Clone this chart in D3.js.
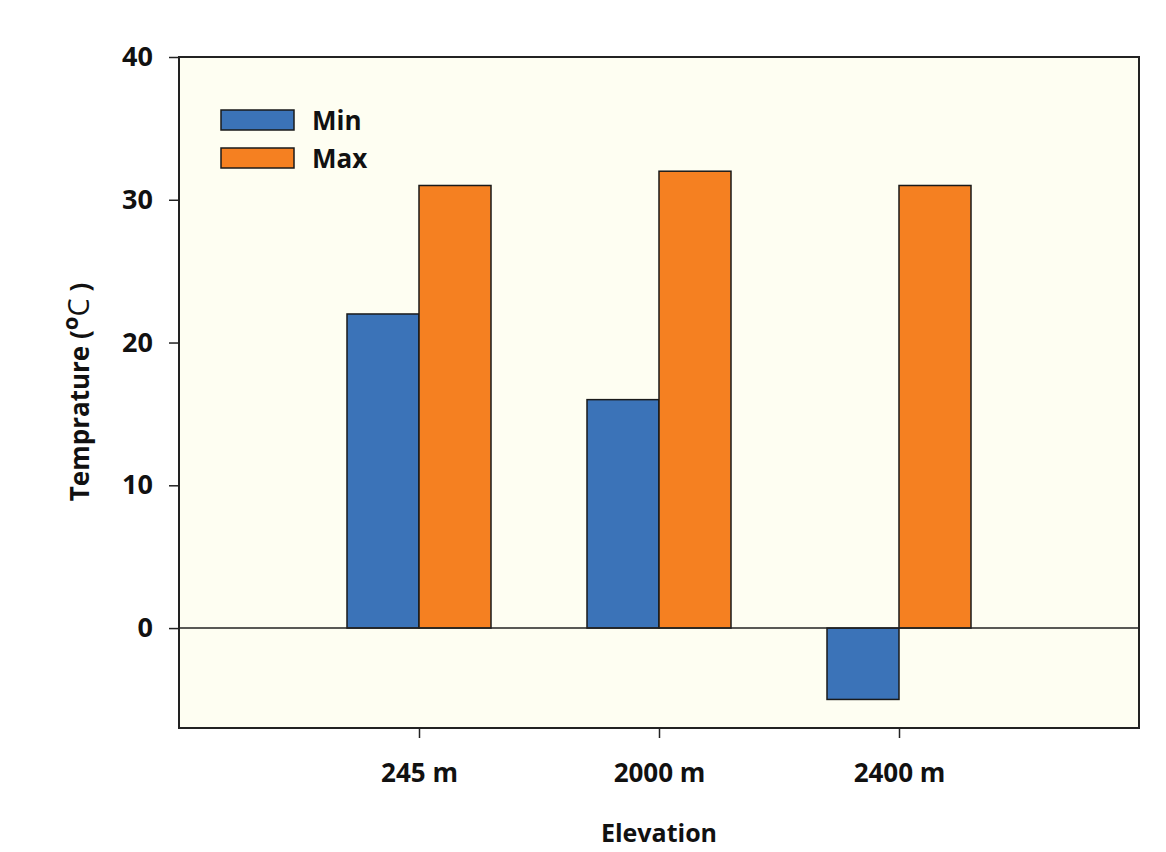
<!DOCTYPE html>
<html>
<head>
<meta charset="utf-8">
<script src="https://cdn.jsdelivr.net/npm/d3@7"></script>
<style>
  body { margin: 0; background: #fff; }
  text { font-family: "Open Sans", sans-serif; font-weight: bold; fill: #111; }
</style>
</head>
<body>
<script>
// data
var elevations = ["245 m", "2000 m", "2400 m"]
var minTemp = [22, 16, -5]
var maxTemp = [31, 32, 31]
var seriesNames = ["Min", "Max"]
var seriesColors = ["#3b73b8", "#f58021"]
var yTicks = [0, 10, 20, 30, 40]

var width = 1166, height = 852
var margin = {top: 57, right: 27, bottom: 124, left: 179}
var w = width - margin.left - margin.right,
    h = height - margin.top - margin.bottom

var svg = d3.select("body").append("svg")
    .attr("width", width)
    .attr("height", height)

var g = svg.append("g")
    .attr("transform", "translate(" + margin.left + "," + margin.top + ")")

// categories sit on slots 1..3 of a 0..4 axis
var x = d3.scaleLinear().domain([0, 4]).range([0, w])
var y = d3.scaleLinear().domain([-7, 40]).range([h, 0])
var barW = x(0.3) - x(0)

// plot background + frame
g.append("rect")
    .attr("width", w)
    .attr("height", h)
    .attr("fill", "#fefef2")
    .attr("stroke", "#222")
    .attr("stroke-width", 2)

// bars
var rows = elevations.map(function(e, i) { return {name: e, vals: [minTemp[i], maxTemp[i]]} })
rows.forEach(function(r, i) {
  r.vals.forEach(function(v, k) {
    var cx = x(i + 1)
    g.append("rect")
        .attr("x", k == 0 ? cx - barW : cx)
        .attr("y", y(Math.max(0, v)))
        .attr("width", barW)
        .attr("height", Math.abs(y(v) - y(0)))
        .attr("fill", seriesColors[k])
        .attr("stroke", "#1a1a1a")
        .attr("stroke-width", 1.5)
  })
})

// zero line
g.append("line")
    .attr("x1", 0).attr("x2", w)
    .attr("y1", y(0)).attr("y2", y(0))
    .attr("stroke", "#222")
    .attr("stroke-width", 1.5)

// y axis
var yAxis = g.append("g")
    .call(d3.axisLeft(y).tickValues(yTicks).tickSize(10).tickPadding(16))
yAxis.select(".domain").remove()
yAxis.selectAll("line").attr("stroke", "#222").attr("stroke-width", 1.5)
yAxis.selectAll("text")
    .attr("font-size", 27)
    .attr("font-family", "'Open Sans', sans-serif")
    .attr("font-weight", "bold")
    .attr("fill", "#111")

// x axis
var xAxis = g.append("g")
    .attr("transform", "translate(0," + h + ")")
    .call(d3.axisBottom(x).tickValues([1, 2, 3]).tickSize(10).tickPadding(26)
      .tickFormat(function(d) { return elevations[d - 1] }))
xAxis.select(".domain").remove()
xAxis.selectAll("line").attr("stroke", "#222").attr("stroke-width", 1.5)
xAxis.selectAll("text")
    .attr("font-size", 26)
    .attr("font-family", "'Open Sans', sans-serif")
    .attr("font-weight", "bold")
    .attr("fill", "#111")

// axis titles
svg.append("text")
    .attr("x", margin.left + x(2))
    .attr("y", 842)
    .attr("text-anchor", "middle")
    .attr("font-size", 25)
    .text("Elevation")

var yl = svg.append("text")
    .attr("transform", "translate(89,392) rotate(-90)")
    .attr("text-anchor", "middle")
    .attr("font-size", 26)
yl.append("tspan").text("Temprature (")
yl.append("tspan").attr("dy", -11).attr("font-size", 22).text("o")
yl.append("tspan").attr("dy", 11).attr("font-weight", "normal").attr("font-size", 29).text("C")
yl.append("tspan").text(" )")

// legend
var leg = g.append("g").attr("transform", "translate(42,53)")
seriesNames.forEach(function(s, i) {
  leg.append("rect")
      .attr("x", 0).attr("y", i * 38)
      .attr("width", 73).attr("height", 20)
      .attr("fill", seriesColors[i])
      .attr("stroke", "#1a1a1a")
      .attr("stroke-width", 1.5)
  leg.append("text")
      .attr("x", 91).attr("y", i * 38 + 20)
      .attr("font-size", 26)
      .text(s)
})
</script>
</body>
</html>
